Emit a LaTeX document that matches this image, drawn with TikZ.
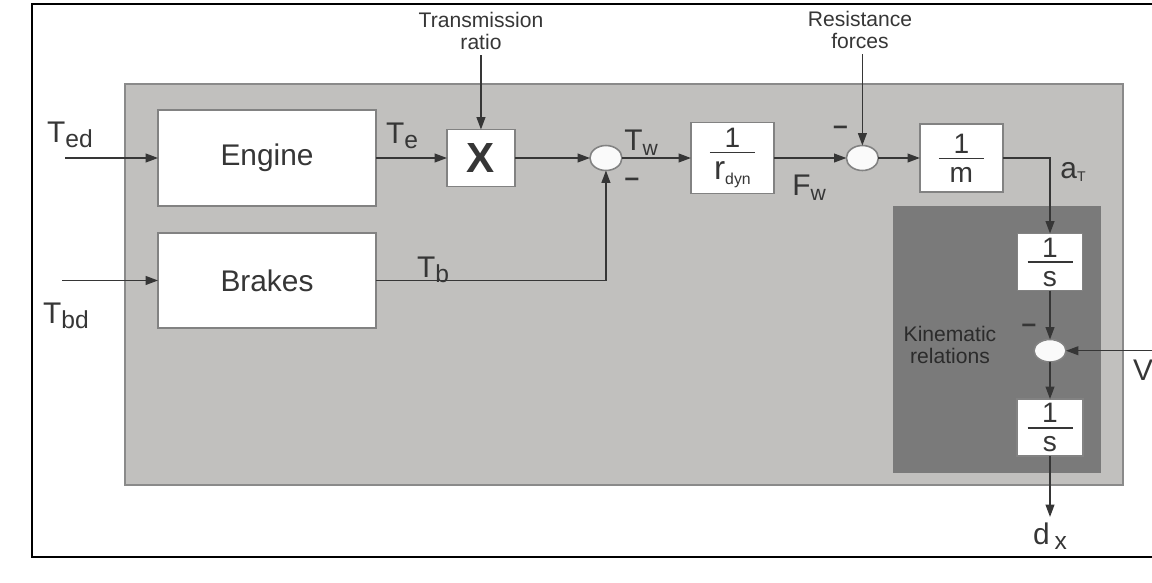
\documentclass[tikz,border=0pt]{standalone}
\usepackage{fontspec}
\setmainfont{Liberation Sans}
\usetikzlibrary{arrows.meta,positioning,shapes.geometric}
\definecolor{ink}{HTML}{363636}
\definecolor{panel}{HTML}{C1C0BE}
\definecolor{panelrule}{HTML}{8A8A8A}
\definecolor{kin}{HTML}{7A7A7A}
\definecolor{boxrule}{HTML}{828282}
\newcommand{\lowsub}[2][14]{\raisebox{-3pt}{\fontsize{#1}{#1}\selectfont #2}}
\newcommand{\blkfrac}[2]{{\fontsize{16}{16}\selectfont\vbox{\offinterlineskip\halign{\hfil##\hfil\cr #1\cr\noalign{\kern2.5pt}\rule{0.9cm}{0.9pt}\cr\noalign{\kern4.5pt}#2\cr}}}}

\begin{document}
\begin{tikzpicture}[x=0.02cm,y=-0.02cm,
  blk/.style={draw=boxrule,fill=white,line width=1.1pt,inner sep=0pt,outer sep=0pt,text=ink},
  sum/.style={ellipse,draw=boxrule,fill=white!96!gray,line width=0.9pt,minimum width=0.64cm,minimum height=0.5cm,inner sep=0pt,outer sep=0pt},
  ar/.style={-{Triangle[length=7pt,width=5pt]},draw=ink,line width=0.8pt},
  lbl/.style={text=ink,font=\fontsize{17}{17}\selectfont,inner sep=0pt},
  note/.style={text=ink,align=center,font=\fontsize{12}{12.5}\selectfont,inner sep=3pt},
  neg/.style={text=ink,font=\fontsize{15}{15}\selectfont\bfseries,inner sep=0pt}
]
\useasboundingbox (0,0) rectangle (1152,582);
\draw[line width=1.4pt] (1160,4) -- (32,4) -- (32,557) -- (1160,557);
\draw[fill=panel,draw=panelrule,line width=1pt] (125,84) rectangle (1123,485);
\fill[kin] (893,206) rectangle (1101,473);
\node[note,text=ink!80!black] (kinl) at (950,345) {Kinematic\\relations};

\node[blk,minimum width=4.36cm,minimum height=1.92cm,font=\fontsize{17}{17}\selectfont] (eng) at (267,158) {Engine};
\node[blk,minimum width=4.36cm,minimum height=1.9cm,font=\fontsize{17}{17}\selectfont,below=0.54cm of eng] (brk) {Brakes};
\node[blk,minimum width=1.36cm,minimum height=1.14cm,font=\fontsize{24}{24}\selectfont\bfseries,right=1.42cm of eng] (mul) {X};
\node[sum,right=1.5cm of mul] (s1) {};
\node[blk,minimum width=1.66cm,minimum height=1.42cm,right=1.38cm of s1] (rdyn) {\blkfrac{1}{{\fontsize{19}{19}\selectfont r}\raisebox{-3pt}{\fontsize{9}{9}\selectfont dyn}}};
\node[sum,right=1.45cm of rdyn] (s2) {};
\node[blk,minimum width=1.66cm,minimum height=1.36cm,right=0.83cm of s2] (invm) {\blkfrac{1}{m}};
\node[blk,minimum width=1.3cm,minimum height=1.14cm] (int1) at (1050,262) {\blkfrac{1}{s}};
\node[sum,minimum height=0.45cm,below=0.98cm of int1] (s3) {};
\node[blk,minimum width=1.32cm,minimum height=1.14cm,below=0.74cm of s3] (int2) {\blkfrac{1}{s}};

\node[note] (trl) at (481,31) {Transmission\\ratio};
\node[note] (rfl) at (860,30) {Resistance\\forces};
\coordinate[left=1.86cm of eng] (ted);
\coordinate[left=1.92cm of brk] (tbd);
\coordinate[below=1.22cm of int2] (out);
\coordinate[right=2cm of s3] (vin);

\node[lbl] (tedl) at (70,135) {T\lowsub{ed}};
\node[lbl] (tbdl) at (66,316) {T\lowsub{bd}};
\node[lbl] (tel) at (402,136) {T\lowsub{e}};
\node[lbl] (twl) at (641,143) {T\lowsub[12]{w}};
\node[lbl] (tbl) at (433,270) {T\lowsub{b}};
\node[lbl] (fwl) at (809,188) {F\lowsub[12]{w}};
\node[lbl] (atl) at (1073,172) {a\raisebox{-2pt}{\fontsize{8}{8}\selectfont T}};
\node[lbl,below=3pt of out] (dxl) {d\,\lowsub{x}};
\node[lbl] (vl) at (1143,370) {V};
\node[neg] (m1) at ([shift={(26,24)}]s1) {–};
\node[neg] (m2) at ([shift={(-22,-28)}]s2) {–};
\node[neg] (m3) at ([shift={(-21,-22)}]s3) {–};

\draw[ar] (ted) -- (eng); \draw[ar] (tbd) -- (brk);
\draw[ar] (eng) -- (mul); \draw[ar] (mul) -- (s1); \draw[ar] (s1) -- (rdyn);
\draw[ar] (rdyn) -- (s2); \draw[ar] (s2) -- (invm);
\draw[ar] (brk) -| (s1);
\draw[ar] (trl.south -| mul) -- (mul); \draw[ar] (rfl.south -| s2) -- (s2);
\draw[ar] (invm) -| (int1);
\draw[ar] (int1) -- (s3); \draw[ar] (s3) -- (int2); \draw[ar] (int2) -- (out);
\draw[ar] (vin) -- (s3);
\end{tikzpicture}
\end{document}
